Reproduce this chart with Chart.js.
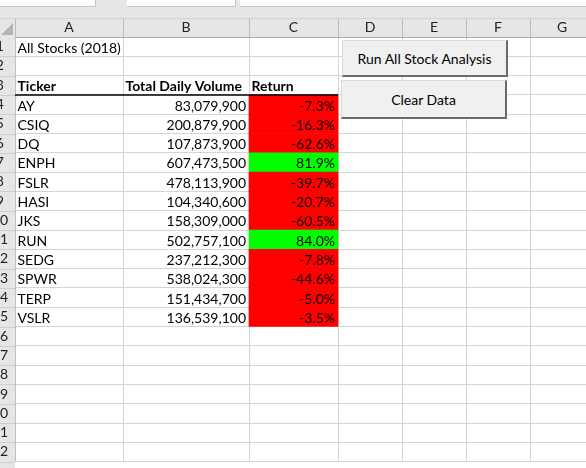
<!DOCTYPE html>
<html>
<head>
<meta charset="utf-8">
<script src="https://cdn.jsdelivr.net/npm/chart.js@4/dist/chart.umd.min.js"></script>
<style>
html,body{margin:0;padding:0;background:#fff;overflow:hidden;}
#wrap{position:relative;width:586px;height:468px;overflow:hidden;}
#sheet{position:absolute;left:0;top:0;}
.tab{position:absolute;top:0;height:6px;background:#fff;border-right:1px solid #c6c6c6;border-bottom:1px solid #c6c6c6;}
.btn{position:absolute;box-sizing:border-box;background:#f0f0f0;border-top:1px solid #d9d9d9;border-left:1px solid #d9d9d9;border-right:2px solid #6a6a6a;border-bottom:2px solid #6a6a6a;font:14px Lato;display:flex;align-items:center;justify-content:center;color:#000;}
</style>
</head>
<body>
<div id="wrap">
<canvas id="sheet" width="586" height="477"></canvas>
<div class="tab" style="left:0;width:95px"></div>
<div class="tab" style="left:127px;width:108px"></div>
<div class="tab" style="left:240px;width:346px"></div>
<div class="btn" style="left:342px;top:40px;width:166px;height:37px">Run All Stock Analysis</div>
<div class="btn" style="left:341px;top:80px;width:166px;height:39px">Clear Data</div>
</div>
<script>
// sheet content
const title = 'All Stocks (2018)';
const headers = ['Ticker', 'Total Daily Volume', 'Return'];
const tickers = ['AY', 'CSIQ', 'DQ', 'ENPH', 'FSLR', 'HASI', 'JKS', 'RUN', 'SEDG', 'SPWR', 'TERP', 'VSLR'];
const volumes = [83079900, 200879900, 107873900, 607473500, 478113900, 104340600, 158309000, 502757100, 237212300, 538024300, 151434700, 136539100];
const returns = [-7.3, -16.3, -62.6, 81.9, -39.7, -20.7, -60.5, 84.0, -7.8, -44.6, -5.0, -3.5];
const columns = ['A', 'B', 'C', 'D', 'E', 'F', 'G'];
const rowLabels = ['1','2','3','4','5','6','7','8','9','10','11','12','13','14','15','16','17','18','19','20','21','22'];

// layout
const colWidths = [108, 126, 89, 64, 64, 64, 64];
const visibleWidth = 571;
const FONT = '14px Lato';
const titleRow = 1, headerRow = 3, firstRow = 4, returnCol = 2;

const edges = [0];
colWidths.forEach(w => edges.push(edges[edges.length - 1] + w));
const centers = colWidths.map((w, i) => edges[i] + w / 2);
const colTicks = edges.concat(centers).filter(v => v <= visibleWidth).sort((a, b) => a - b);

function isEdge(v){
    return edges.some(e => Math.abs(e - v) < 0.01);
}

function labelAt(v){
    const i = centers.findIndex(c => Math.abs(c - v) < 0.01);
    return i < 0 ? '' : columns[i];
}

const sheetPlugin = {
    id: 'sheet',
    beforeDraw(chart){
        const {ctx, chartArea, scales} = chart;
        const xs = scales.x, ys = scales.y;
        ctx.save();
        ctx.fillStyle = '#ffffff';
        ctx.fillRect(0, 0, chart.width, chart.height);
        ctx.fillStyle = '#e6e6e6';
        ctx.fillRect(0, 0, chart.width, xs.bottom);
        ctx.fillRect(0, chartArea.top, ys.right, chart.height - chartArea.top);
        ctx.fillStyle = '#d4d4d4';
        ctx.fillRect(0, xs.top, chart.width, 1);
        // column header separators
        ctx.fillStyle = '#bdbdbd';
        edges.filter(e => e <= visibleWidth).forEach(e => {
            const px = Math.round(xs.getPixelForValue(e));
            ctx.fillRect(px, xs.top + 1, 1, xs.bottom - xs.top);
        });
        // row header separators
        ctx.fillStyle = '#cdcdcd';
        for(let i = 1; i <= rowLabels.length; i++){
            const py = Math.round((ys.getPixelForValue(i - 1) + ys.getPixelForValue(i)) / 2);
            ctx.fillRect(0, py, ys.right, 1);
        }
        // select-all corner
        ctx.fillStyle = '#b4b4b4';
        ctx.beginPath();
        ctx.moveTo(13, xs.top + 5);
        ctx.lineTo(13, xs.bottom - 2);
        ctx.lineTo(1, xs.bottom - 2);
        ctx.closePath();
        ctx.fill();
        ctx.restore();
    },
    afterDatasetsDraw(chart){
        const {ctx, scales} = chart;
        const xs = scales.x, ys = scales.y;
        ctx.save();
        ctx.fillStyle = '#000';
        ctx.textBaseline = 'alphabetic';
        function cell(text, col, row, align, bold){
            const left = xs.getPixelForValue(edges[col]);
            const right = xs.getPixelForValue(edges[col + 1]);
            ctx.font = (bold ? 'bold ' : '') + FONT;
            ctx.textAlign = align;
            ctx.fillText(text, align === 'left' ? left + 2.5 : right - 3, ys.getPixelForValue(row - 1) + 6);
        }
        cell(title, 0, titleRow, 'left', false);
        headers.forEach((h, i) => cell(h, i, headerRow, 'left', true));
        tickers.forEach((t, i) => {
            cell(t, 0, firstRow + i, 'left', false);
            cell(volumes[i].toLocaleString('en-US'), 1, firstRow + i, 'right', false);
            cell(returns[i].toFixed(1) + '%', 2, firstRow + i, 'right', false);
        });
        // border under the header row
        const by = (ys.getPixelForValue(headerRow - 1) + ys.getPixelForValue(headerRow)) / 2;
        ctx.strokeStyle = '#000';
        ctx.lineWidth = 1.5;
        ctx.beginPath();
        ctx.moveTo(xs.getPixelForValue(0), by);
        ctx.lineTo(xs.getPixelForValue(edges[returnCol + 1]), by);
        ctx.stroke();
        ctx.restore();
    }
};

new Chart(document.getElementById('sheet'), {
    type: 'bar',
    data: {
        labels: rowLabels,
        datasets: [{
            data: tickers.map((t, i) => ({y: rowLabels[firstRow - 1 + i], x: [edges[returnCol], edges[returnCol + 1]]})),
            backgroundColor: returns.map(r => r >= 0 ? '#00ff00' : '#ff0000'),
            borderWidth: 0,
            barPercentage: 1,
            categoryPercentage: 1
        }]
    },
    options: {
        indexAxis: 'y',
        responsive: false,
        animation: false,
        devicePixelRatio: 1,
        layout: {padding: {top: 18, left: 0, right: 0, bottom: 0}},
        plugins: {legend: {display: false}, tooltip: {enabled: false}},
        scales: {
            x: {
                type: 'linear',
                position: 'top',
                min: 0,
                max: visibleWidth,
                afterBuildTicks: s => { s.ticks = colTicks.map(v => ({value: v})); },
                afterFit: s => { s.height = 19; },
                ticks: {autoSkip: false, maxRotation: 0, padding: 1, color: '#222', font: {family: 'Lato', size: 14}, callback: v => labelAt(v)},
                grid: {drawTicks: false, color: c => (c.tick && isEdge(c.tick.value)) ? '#d4d4d4' : 'rgba(0,0,0,0)'},
                border: {color: '#ababab'}
            },
            y: {
                type: 'category',
                offset: true,
                afterFit: s => { s.width = 15; },
                ticks: {autoSkip: false, crossAlign: 'center', padding: 7, color: '#222', font: {family: 'Lato', size: 14}},
                grid: {drawTicks: false, offset: true, color: '#d4d4d4'},
                border: {color: '#c0c0c0'}
            }
        }
    },
    plugins: [sheetPlugin]
});
</script>
</body>
</html>
